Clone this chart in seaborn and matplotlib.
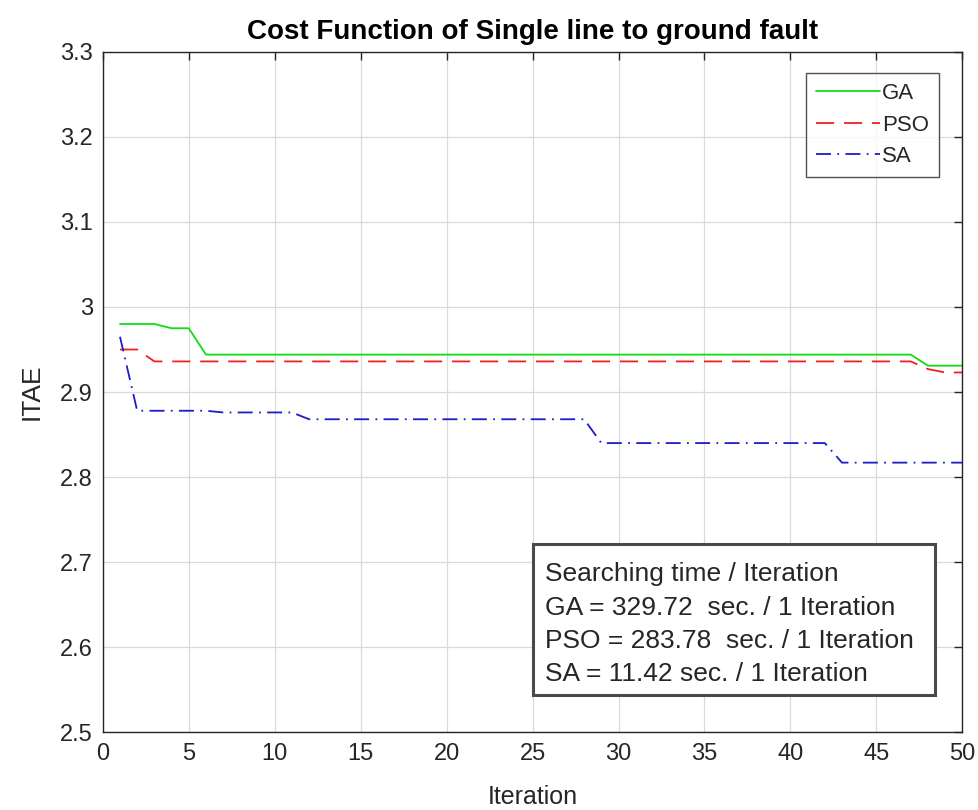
import numpy as np
import pandas as pd
import seaborn as sns
import matplotlib
matplotlib.use("Agg")
import matplotlib.pyplot as plt
from matplotlib.patches import Rectangle

# Best cost (ITAE) per iteration for each optimiser
iterations = list(range(1, 51))
ga_cost = ([2.980, 2.980, 2.980, 2.975, 2.975]
           + [2.944] * 42
           + [2.931, 2.931, 2.931])
pso_cost = ([2.950, 2.950]
            + [2.936] * 45
            + [2.927, 2.923, 2.923])
sa_cost = ([2.965]
           + [2.878] * 5
           + [2.876] * 5
           + [2.868] * 17
           + [2.840] * 14
           + [2.817] * 8)

series_names = ["GA", "PSO", "SA"]
series_colors = {"GA": "#10dd10", "PSO": "#ee2020", "SA": "#1c1cc8"}
series_dashes = {"GA": "", "PSO": (10, 5.5), "SA": (8.3, 3.5, 1.0, 3.5)}

x_ticks = list(range(0, 51, 5))
y_ticks = [2.5, 2.6, 2.7, 2.8, 2.9, 3.0, 3.1, 3.2, 3.3]
y_tick_labels = ["2.5", "2.6", "2.7", "2.8", "2.9", "3", "3.1", "3.2", "3.3"]

info_lines = [
    "Searching time / Iteration",
    "GA = 329.72  sec. / 1 Iteration",
    "PSO = 283.78  sec. / 1 Iteration",
    "SA = 11.42 sec. / 1 Iteration",
]

df = pd.DataFrame({
    "Iteration": iterations * 3,
    "ITAE": ga_cost + pso_cost + sa_cost,
    "Method": ["GA"] * 50 + ["PSO"] * 50 + ["SA"] * 50,
})

sns.set_theme(style="white")
plt.rcParams["font.family"] = ["Liberation Sans", "DejaVu Sans"]

fig = plt.figure(figsize=(9.79, 8.10), dpi=100)
ax = fig.add_axes([0.105, 0.096, 0.878, 0.840])

sns.lineplot(data=df, x="Iteration", y="ITAE", hue="Method", style="Method",
             hue_order=series_names, style_order=series_names,
             palette=series_colors, dashes=series_dashes,
             linewidth=1.3, ax=ax)

ax.set_xlim(0, 50)
ax.set_ylim(2.5, 3.3)
ax.set_xticks(x_ticks)
ax.set_yticks(y_ticks)
ax.set_yticklabels(y_tick_labels)
ax.tick_params(axis="both", which="both", direction="in", length=6, width=1.0,
               top=True, right=True, labelsize=17, colors="#262626")
ax.tick_params(axis="x", pad=8)
ax.tick_params(axis="y", pad=7)
ax.grid(True, color="#dadada", linewidth=0.9)
ax.set_axisbelow(True)
for sp in ax.spines.values():
    sp.set_color("#262626")
    sp.set_linewidth(1.0)

ax.set_title("Cost Function of Single line to ground fault", fontsize=20,
             fontweight="bold", color="black", pad=9)
ax.set_xlabel("Iteration", fontsize=18, color="#262626", labelpad=14)
ax.set_ylabel("ITAE", fontsize=19, color="#262626", labelpad=12)

leg = ax.legend(loc="upper right", bbox_to_anchor=(0.9732, 0.969), fontsize=16,
                frameon=True, fancybox=False, handlelength=2.9,
                handletextpad=0.1, borderpad=0.45, labelspacing=0.48,
                borderaxespad=0)
leg.get_frame().set_edgecolor("#262626")
leg.get_frame().set_linewidth(1.0)

# Annotation box with the per-iteration search times
ax.add_patch(Rectangle((0.5006, 0.0544), 0.468, 0.2221, transform=ax.transAxes,
                       facecolor="white", edgecolor="#4a4a4a", linewidth=2.2,
                       zorder=5))
for i, line in enumerate(info_lines):
    ax.text(0.5146, 0.232 - i * 0.0489, line, transform=ax.transAxes,
            fontsize=19, color="#262626", va="center", ha="left", zorder=6)

fig.savefig("out.png", dpi=100)
